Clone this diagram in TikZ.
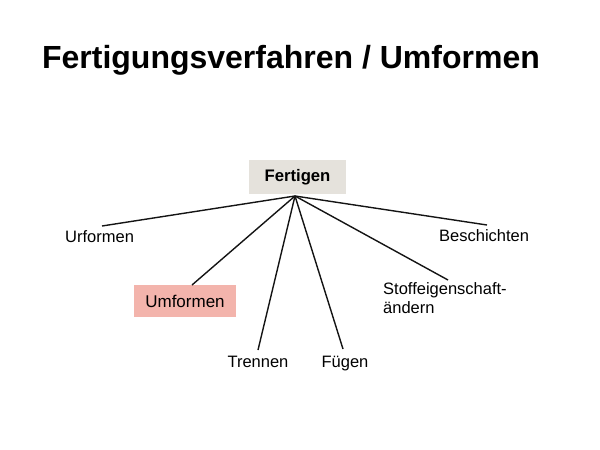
\documentclass[tikz,border=0pt]{standalone}
\usepackage{fontspec}
\setmainfont{Liberation Sans}
\definecolor{boxgrey}{RGB}{229,226,220}
\definecolor{boxpink}{RGB}{243,180,172}
\definecolor{linecol}{RGB}{20,20,20}
\begin{document}
\begin{tikzpicture}[x=1pt,y=-1pt,
  lbl/.style={inner sep=0pt,font=\fontsize{16.5}{19}\selectfont,text=black},
  conn/.style={draw=linecol,line width=1.4pt}]
\useasboundingbox (0,0) rectangle (600,450);
\node[inner sep=0pt,anchor=base,font=\fontsize{32}{38}\selectfont\bfseries] (title) at (291,68) {Fertigungsverfahren / Umformen};
\node[fill=boxgrey,minimum width=97pt,minimum height=34pt,inner sep=0pt,font=\fontsize{16.7}{19}\selectfont\bfseries] (fertigen) at (297.5,177) {Fertigen};
\coordinate (hub) at (295,196);
\node[lbl,anchor=base west] (urformen) at (65,242) {Urformen};
\node[fill=boxpink,minimum width=102pt,minimum height=32pt,inner sep=0pt,font=\fontsize{17}{19}\selectfont] (umformen) at (185,301) {Umformen};
\node[lbl,anchor=base] (trennen) at (258,367) {Trennen};
\node[lbl,anchor=base] (fuegen) at (345,367) {Fügen};
\node[lbl,anchor=base west,align=left] (stoff) at (383,313) {Stoffeigenschaft-\\[-0.5pt]ändern};
\node[lbl,anchor=base west] (besch) at (439,241) {Beschichten};
\coordinate (eurf) at (102,226);
\coordinate (eumf) at (192,285);
\coordinate (etre) at (258,350);
\coordinate (efue) at (343,349);
\coordinate (esto) at (448,280);
\coordinate (ebes) at (487,225);
\draw[conn] (hub) -- (eurf);
\draw[conn] (hub) -- (eumf);
\draw[conn] (hub) -- (etre);
\draw[conn] (hub) -- (efue);
\draw[conn] (hub) -- (esto);
\draw[conn] (hub) -- (ebes);
\end{tikzpicture}
\end{document}
